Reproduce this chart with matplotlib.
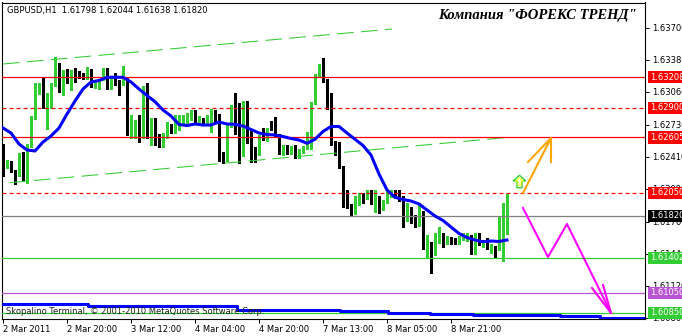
import numpy as np
import matplotlib.pyplot as plt
from matplotlib.path import Path

# GBPUSD H1, one candle per hour
opens = [1.6253, 1.6231, 1.6236, 1.6227, 1.6223, 1.6244, 1.6236, 1.6252, 1.6280, 1.6308,
         1.6314, 1.6296, 1.6302, 1.6313, 1.6321, 1.6307, 1.6324, 1.6322, 1.6327, 1.6325,
         1.6324, 1.6320, 1.6328, 1.6312, 1.6314, 1.6319, 1.6329, 1.6310, 1.6320, 1.6316,
         1.6314, 1.6320, 1.6264, 1.6266, 1.6275, 1.6261, 1.6311, 1.6261, 1.6279, 1.6263,
         1.6260, 1.6261, 1.6273, 1.6266, 1.6271, 1.6273, 1.6273, 1.6283, 1.6286, 1.6276,
         1.6279, 1.6275, 1.6281, 1.6283, 1.6282, 1.6241, 1.6238, 1.6274, 1.6287, 1.6268,
         1.6243, 1.6296, 1.6263, 1.6248, 1.6245, 1.6267, 1.6258, 1.6276, 1.6275, 1.6263,
         1.6245, 1.6247, 1.6245, 1.6252, 1.6241, 1.6246, 1.6250, 1.6250, 1.6295, 1.6322,
         1.6326, 1.6318, 1.6299, 1.6255, 1.6245, 1.6231, 1.6202, 1.6193, 1.6185, 1.6197,
         1.6201, 1.6200, 1.6204, 1.6194, 1.6201, 1.6190, 1.6196, 1.6202, 1.6207, 1.6206,
         1.6201, 1.6183, 1.6190, 1.6179, 1.6173, 1.6186, 1.6148, 1.6152, 1.6145, 1.6156,
         1.6163, 1.6155, 1.6159, 1.6159, 1.6155, 1.6159, 1.6160, 1.6159, 1.6145, 1.6163,
         1.6152, 1.6157, 1.6148, 1.6150, 1.6152, 1.6173, 1.61798]
highs = [1.6254, 1.6238, 1.6237, 1.6228, 1.6245, 1.6246, 1.6254, 1.6282, 1.6315, 1.6315,
         1.6321, 1.6305, 1.6315, 1.6341, 1.6335, 1.6328, 1.6329, 1.6328, 1.6330, 1.6327,
         1.6325, 1.6331, 1.6329, 1.6318, 1.6319, 1.6330, 1.6330, 1.6321, 1.6325, 1.6318,
         1.6332, 1.6321, 1.6283, 1.6278, 1.6283, 1.6312, 1.6315, 1.6280, 1.6280, 1.6264,
         1.6265, 1.6276, 1.6274, 1.6283, 1.6283, 1.6283, 1.6285, 1.6288, 1.6288, 1.6282,
         1.6280, 1.6283, 1.6289, 1.6288, 1.6284, 1.6246, 1.6275, 1.6293, 1.6305, 1.6295,
         1.6297, 1.6297, 1.6268, 1.6251, 1.6263, 1.6270, 1.6270, 1.6277, 1.6281, 1.6264,
         1.6253, 1.6253, 1.6252, 1.6253, 1.6249, 1.6252, 1.6266, 1.6296, 1.6324, 1.6334,
         1.6340, 1.6319, 1.6305, 1.6257, 1.6256, 1.6232, 1.6208, 1.6194, 1.6202, 1.6205,
         1.6205, 1.6208, 1.6208, 1.6208, 1.6202, 1.6198, 1.6208, 1.6208, 1.6208, 1.6208,
         1.6202, 1.6195, 1.6191, 1.6183, 1.6195, 1.6187, 1.6163, 1.6156, 1.6165, 1.6171,
         1.6165, 1.6162, 1.6161, 1.6160, 1.6162, 1.6165, 1.6165, 1.6163, 1.6165, 1.6165,
         1.6158, 1.6160, 1.6154, 1.6152, 1.6181, 1.6195, 1.62044]
lows = [1.6222, 1.6230, 1.6226, 1.6214, 1.6222, 1.6218, 1.6215, 1.6251, 1.6279, 1.6304,
        1.6290, 1.6269, 1.6290, 1.6312, 1.6306, 1.6303, 1.6315, 1.6308, 1.6316, 1.6320,
        1.6319, 1.6319, 1.6311, 1.6310, 1.6309, 1.6318, 1.6309, 1.6309, 1.6313, 1.6303,
        1.6313, 1.6263, 1.6260, 1.6260, 1.6256, 1.6260, 1.6260, 1.6253, 1.6253, 1.6251,
        1.6251, 1.6260, 1.6265, 1.6265, 1.6268, 1.6273, 1.6272, 1.6278, 1.6276, 1.6276,
        1.6274, 1.6274, 1.6266, 1.6276, 1.6237, 1.6235, 1.6237, 1.6271, 1.6264, 1.6235,
        1.6242, 1.6255, 1.6236, 1.6236, 1.6243, 1.6258, 1.6257, 1.6268, 1.6262, 1.6244,
        1.6243, 1.6244, 1.6244, 1.6240, 1.6240, 1.6245, 1.6249, 1.6249, 1.6294, 1.6321,
        1.6316, 1.6289, 1.6253, 1.6243, 1.6230, 1.6191, 1.6190, 1.6182, 1.6184, 1.6193,
        1.6195, 1.6199, 1.6194, 1.6186, 1.6185, 1.6188, 1.6195, 1.6201, 1.6200, 1.6197,
        1.6171, 1.6177, 1.6175, 1.6171, 1.6172, 1.6149, 1.6141, 1.6125, 1.6143, 1.6155,
        1.6151, 1.6154, 1.6154, 1.6154, 1.6154, 1.6158, 1.6157, 1.6144, 1.6144, 1.6153,
        1.6151, 1.6149, 1.6145, 1.6140, 1.6148, 1.6137, 1.61638]
closes = [1.6223, 1.6236, 1.6226, 1.6223, 1.6244, 1.6236, 1.6252, 1.6281, 1.6310, 1.6314,
          1.6296, 1.6304, 1.6314, 1.6321, 1.6307, 1.6324, 1.6322, 1.6327, 1.6325, 1.6322,
          1.6321, 1.6328, 1.6312, 1.6316, 1.6318, 1.6329, 1.6310, 1.6320, 1.6315, 1.6314,
          1.6319, 1.6265, 1.6267, 1.6275, 1.6273, 1.6311, 1.6261, 1.6278, 1.6262, 1.6261,
          1.6263, 1.6274, 1.6267, 1.6276, 1.6274, 1.6277, 1.6284, 1.6287, 1.6277, 1.6280,
          1.6275, 1.6282, 1.6283, 1.6281, 1.6238, 1.6239, 1.6273, 1.6287, 1.6265, 1.6243,
          1.6296, 1.6262, 1.6247, 1.6245, 1.6261, 1.6265, 1.6269, 1.6273, 1.6263, 1.6245,
          1.6247, 1.6245, 1.6251, 1.6241, 1.6248, 1.6251, 1.6254, 1.6295, 1.6323, 1.6326,
          1.6317, 1.6298, 1.6254, 1.6244, 1.6231, 1.6201, 1.6193, 1.6185, 1.6201, 1.6199,
          1.6200, 1.6204, 1.6195, 1.6200, 1.6190, 1.6197, 1.6203, 1.6207, 1.6202, 1.6198,
          1.6183, 1.6190, 1.6176, 1.6175, 1.6186, 1.6150, 1.6152, 1.6146, 1.6156, 1.6162,
          1.6154, 1.6159, 1.6157, 1.6155, 1.6161, 1.6161, 1.6162, 1.6145, 1.6163, 1.6154,
          1.6156, 1.6150, 1.6151, 1.6147, 1.6173, 1.6180, 1.61820]

# moving average, read every 2nd bar
ma_values = [1.62700, 1.62650, 1.62540, 1.62480, 1.62470, 1.62560, 1.62620, 1.62700,
             1.62840, 1.62970, 1.63090, 1.63160, 1.63175, 1.63207, 1.63207, 1.63207,
             1.63160, 1.63090, 1.63025, 1.62963, 1.62880, 1.62820, 1.62735, 1.62725,
             1.62740, 1.62730, 1.62730, 1.62760, 1.62740, 1.62737, 1.62720, 1.62685,
             1.62650, 1.62635, 1.62630, 1.62615, 1.62595, 1.62580, 1.62547, 1.62587,
             1.62665, 1.62715, 1.62715, 1.62650, 1.62587, 1.62525, 1.62430, 1.62240,
             1.62080, 1.62007, 1.61985, 1.61970, 1.61940, 1.61880, 1.61820, 1.61775,
             1.61710, 1.61645, 1.61605, 1.61580, 1.61563, 1.61570, 1.61565, 1.61580]

# indicator line along the bottom (steps)
low_line_x = [-0.75, 21.25, 58.5, 84.25, 96.25, 106.75, 117.5, 139.25, 149.25, 160.5]
low_line_y = [1.60937, 1.60920, 1.60885, 1.60870, 1.60855, 1.60840, 1.60825, 1.60815, 1.60800, 1.60800]

# horizontal levels
levels = [1.63208, 1.62900, 1.62605, 1.62050, 1.61820, 1.61402, 1.61050, 1.60850]
level_colors = ['red', 'red', 'red', 'red', '#808080', '#32CD32', '#BA55D3', '#32CD32']
level_dashed = [False, True, False, True, False, False, False, False]
box_colors = ['red', 'red', 'red', 'red', 'black', '#32CD32', '#BA55D3', '#32CD32']

# trend channel (bar, price)
chan_top_x = [0, 97.25]
chan_top_y = [1.6334, 1.6369]
chan_bot_x = [1.75, 126.25]
chan_bot_y = [1.62153, 1.62606]

# hand-drawn forecast arrows
orange_x = [130, 137]
orange_y = [1.6205, 1.6260]
orange_head_x = [131.25, 137, 137]
orange_head_y = [1.6236, 1.6260, 1.6236]
zig_x = [130, 136.25, 141, 152]
zig_y = [1.6190, 1.6141, 1.6174, 1.6085]
zig_head_x = [147.25, 152, 150]
zig_head_y = [1.6110, 1.6085, 1.6113]
sign_x, sign_y = 129.1, 1.62165

yticks = [1.63700, 1.63380, 1.63060, 1.62730, 1.62410, 1.62090, 1.61760, 1.61440, 1.61120, 1.60800]
xtick_bars = [0, 16, 32, 48, 64, 80, 96, 112]
xtick_labels = ['2 Mar 2011', '2 Mar 20:00', '3 Mar 12:00', '4 Mar 04:00',
                '4 Mar 20:00', '7 Mar 13:00', '8 Mar 05:00', '8 Mar 21:00']

W, H = 682, 336
fig = plt.figure(figsize=(W / 100, H / 100), dpi=100)
ax = fig.add_axes([2 / W, 1 - 319 / H, 643 / W, 316.5 / H])
ax.set_xlim(-0.25, 160.5)
ax.set_ylim(1.60790, 1.63955)

o = np.array(opens)
h = np.array(highs)
l = np.array(lows)
c = np.array(closes)
idx = np.arange(len(o))
up = c >= o
cols = np.where(up, '#32CD32', 'black')

ax.vlines(idx, l, h, colors=cols, lw=0.75, antialiased=False, zorder=2)
body = np.maximum(np.abs(c - o), 0.00008)
ax.bar(idx, body, width=0.72, bottom=np.minimum(o, c), color=cols,
       edgecolor='none', antialiased=False, zorder=3)

# channel
ax.plot(chan_top_x, chan_top_y, color='#32CD32', lw=0.75, dashes=(16, 7), zorder=4)
ax.plot(chan_bot_x, chan_bot_y, color='#32CD32', lw=0.75, dashes=(16, 7), zorder=4)

# levels
for lv, col, dsh in zip(levels, level_colors, level_dashed):
    if dsh:
        ax.axhline(lv, color=col, lw=0.9, dashes=(3.2, 2.4), zorder=4)
    else:
        ax.axhline(lv, color=col, lw=0.9, zorder=4)

ax.step(low_line_x, low_line_y, where='post', color='#0000FF', lw=2.2, zorder=4)
ax.plot(np.arange(0, len(o), 2), ma_values, color='#0000FF', lw=2.2, zorder=5)

# arrows
ax.plot(orange_x, orange_y, color='#FFA500', lw=1.5, zorder=6)
ax.plot(orange_head_x, orange_head_y, color='#FFA500', lw=1.5, zorder=6)
ax.plot(zig_x, zig_y, color='#FF00FF', lw=1.5, zorder=6)
ax.plot(zig_head_x, zig_head_y, color='#FF00FF', lw=1.5, zorder=6)

arrow = Path([(0, 1), (1, 0.1), (0.4, 0.1), (0.4, -1), (-0.4, -1), (-0.4, 0.1), (-1, 0.1), (0, 1)])
ax.plot(sign_x, sign_y, marker=arrow, ms=9, mfc='white', mec='#32CD32', mew=1, zorder=6)
ax.plot(sign_x, sign_y, marker=arrow, ms=5.5, mfc='none', mec='yellow', mew=0.7, zorder=6)

# axes
for s in ax.spines.values():
    s.set_linewidth(0.8)
ax.yaxis.tick_right()
ax.set_yticks(yticks)
ax.set_yticklabels(['%.5f' % v for v in yticks])
ax.tick_params(axis='y', length=3, width=0.7, pad=2, labelsize=6)
ax.set_xticks(xtick_bars)
ax.set_xticklabels(xtick_labels)
ax.tick_params(axis='x', length=3, width=0.7, pad=1, labelsize=6)
for lab in ax.get_xticklabels():
    lab.set_ha('left')

for lv, bc in zip(levels, box_colors):
    ax.text(1.0078, lv, '%.5f' % lv, transform=ax.get_yaxis_transform(),
            color='white', fontsize=6, va='center', ha='left', clip_on=False,
            bbox=dict(boxstyle='square,pad=0.2', fc=bc, ec='none'), zorder=10)

fig.text(7 / W, 1 - 10.5 / H, 'GBPUSD,H1  1.61798 1.62044 1.61638 1.61820',
         fontsize=6, va='center', ha='left')
fig.text(637 / W, 1 - 16 / H, 'Компания "ФОРЕКС ТРЕНД"', fontsize=10.5,
         family='Liberation Serif', style='italic', weight='bold', ha='right', va='center')
fig.text(6 / W, 1 - 311 / H, 'Skopalino Terminal, © 2001-2010 MetaQuotes Software Corp.',
         fontsize=6, va='center', ha='left', color='#202020')

fig.savefig('out.png', dpi=100)
